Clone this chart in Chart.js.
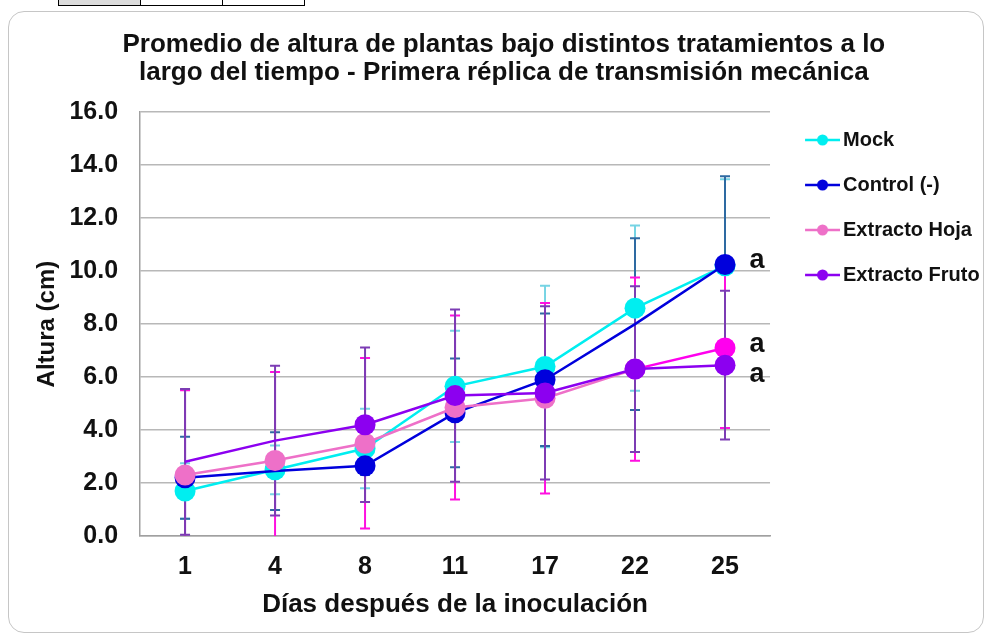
<!DOCTYPE html>
<html>
<head>
<meta charset="utf-8">
<script src="https://cdn.jsdelivr.net/npm/chart.js@4.4.0/dist/chart.umd.min.js"></script>
<style>
  html, body { margin: 0; padding: 0; background: #fff; }
  #wrap { position: relative; width: 987px; height: 637px; overflow: hidden; }
  .frame { position: absolute; left: 8px; top: 11px; width: 976px; height: 622px; border: 1.5px solid #c6c6c6; border-radius: 16px; box-sizing: border-box; }
  .tbl { position: absolute; left: 58px; top: -20px; height: 24px; display: flex; border: 1.5px solid #000; }
  .tbl div { width: 81px; border-right: 1.5px solid #000; }
  .tbl div:first-child { background: #dcdcdc; }
  .tbl div:last-child { border-right: none; }
  canvas { position: absolute; left: 0; top: 0; }
</style>
</head>
<body>
<div id="wrap">
  <div class="tbl"><div></div><div></div><div></div></div>
  <div class="frame"></div>
  <canvas id="chart" width="987" height="637"></canvas>
</div>
<script>
// days after inoculation
const days = ['1', '4', '8', '11', '17', '22', '25'];

// mean plant height (cm)
const mock = [1.7, 2.5, 3.3, 5.65, 6.4, 8.6, 10.2];
const control = [2.2, 2.45, 2.65, 4.65, 5.9, 8.0, 10.25];
const hoja = [2.3, 2.85, 3.5, 4.85, 5.2, 6.3, 7.1];
const fruto = [2.8, 3.6, 4.2, 5.3, 5.4, 6.3, 6.45];

// standard deviation (error bars)
const mockErr = [1.05, 0.92, 1.5, 2.1, 3.05, 3.12, 3.27];
const controlErr = [1.55, 1.47, 0.35, 2.05, 2.5, 3.24, 3.33];
const hojaErr = [3.2, 3.34, 3.22, 3.47, 3.6, 3.46, 3.02];
const frutoErr = [2.75, 2.83, 2.92, 3.25, 3.27, 3.13, 2.81];

// significance letters at last day
const letters = ['', 'a', 'a', 'a'];

const yTicks = [0, 2, 4, 6, 8, 10, 12, 14, 16];

const FONT = "'Liberation Sans', Arial, sans-serif";
const lineColors = ['#00eef0', '#0000dc', '#ee70c8', '#8c00f0'];
const errColors = ['#76d4e4', '#2e6aa2', '#ff10e0', '#7c3cb4'];
const hojaLast = '#ff00ee';

// legend sample: short line with a dot, drawn in the right part of the image
function legendIcon(color) {
  const c = document.createElement('canvas');
  c.width = 52; c.height = 16;
  const g = c.getContext('2d');
  g.strokeStyle = color; g.lineWidth = 2.5;
  g.beginPath(); g.moveTo(17, 8); g.lineTo(52, 8); g.stroke();
  g.fillStyle = color;
  g.beginPath(); g.arc(34.5, 8, 5.5, 0, Math.PI * 2); g.fill();
  return c;
}
const icons = lineColors.map(legendIcon);

const errorBars = {
  id: 'errorBars',
  beforeDatasetsDraw(chart) {
    const { ctx, chartArea, scales: { x, y } } = chart;
    const vals = [mock, control, hoja, fruto];
    const errs = [mockErr, controlErr, hojaErr, frutoErr];
    ctx.save();
    ctx.beginPath();
    ctx.rect(chartArea.left, chartArea.top - 2, chartArea.right - chartArea.left, chartArea.bottom - chartArea.top + 2);
    ctx.clip();
    ctx.lineWidth = 2;
    vals.forEach((series, s) => {
      ctx.strokeStyle = errColors[s];
      series.forEach((v, i) => {
        const px = x.getPixelForValue(i);
        const top = y.getPixelForValue(v + errs[s][i]);
        const bot = y.getPixelForValue(v - errs[s][i]);
        ctx.beginPath();
        ctx.moveTo(px, top); ctx.lineTo(px, bot);
        ctx.moveTo(px - 5, top); ctx.lineTo(px + 5, top);
        ctx.moveTo(px - 5, bot); ctx.lineTo(px + 5, bot);
        ctx.stroke();
      });
    });
    ctx.restore();
  }
};

const letterLabels = {
  id: 'letterLabels',
  afterDatasetsDraw(chart) {
    const ctx = chart.ctx;
    const dy = [0, -4, -3, 9];
    ctx.save();
    ctx.font = 'bold 27px ' + FONT;
    ctx.fillStyle = '#111';
    ctx.textAlign = 'center';
    ctx.textBaseline = 'middle';
    letters.forEach((t, s) => {
      if (!t) return;
      const meta = chart.getDatasetMeta(s);
      const pt = meta.data[meta.data.length - 1];
      ctx.fillText(t, pt.x + 32, pt.y + dy[s]);
    });
    ctx.restore();
  }
};

new Chart(document.getElementById('chart'), {
  type: 'line',
  data: {
    labels: days,
    datasets: [
      {
        label: 'Mock', data: mock, order: 3,
        borderColor: lineColors[0], backgroundColor: lineColors[0],
        pointRadius: 10.5
      },
      {
        label: 'Control (-)', data: control, order: 2,
        borderColor: lineColors[1], backgroundColor: lineColors[1],
        pointRadius: [10.5, 0, 10.5, 10.5, 10.5, 0, 10.5]
      },
      {
        label: 'Extracto Hoja', data: hoja, order: 1,
        borderColor: lineColors[2], backgroundColor: lineColors[2],
        pointBackgroundColor: hoja.map((v, i) => i === hoja.length - 1 ? hojaLast : lineColors[2]),
        pointBorderColor: hoja.map((v, i) => i === hoja.length - 1 ? hojaLast : lineColors[2]),
        segment: { borderColor: c => c.p1DataIndex === hoja.length - 1 ? hojaLast : lineColors[2] },
        pointRadius: 10.5
      },
      {
        label: 'Extracto Fruto', data: fruto, order: 0,
        borderColor: lineColors[3], backgroundColor: lineColors[3],
        pointRadius: [0, 0, 10.5, 10.5, 10.5, 10.5, 10.5]
      }
    ]
  },
  options: {
    responsive: false,
    animation: false,
    events: [],
    elements: {
      line: { borderWidth: 2.5, tension: 0 },
      point: { borderWidth: 0, hoverRadius: 10.5 }
    },
    layout: { padding: { left: 18, right: -2.7, top: 0, bottom: 12.4 } },
    plugins: {
      title: {
        display: true,
        text: ['Promedio de altura de plantas bajo distintos tratamientos a lo',
               'largo del tiempo - Primera réplica de transmisión mecánica'],
        color: '#111',
        font: { family: FONT, size: 26, weight: 'bold', lineHeight: 1.08 },
        padding: { top: 31, bottom: 25 }
      },
      legend: {
        position: 'right',
        align: 'start',
        title: { display: true, text: ' ', font: { size: 10, lineHeight: 1.2 }, padding: { top: 93, bottom: 0 } },
        labels: {
          usePointStyle: true,
          pointStyleWidth: 38,
          boxHeight: 16,
          padding: 25,
          color: '#111',
          font: { family: FONT, size: 20, weight: 'bold' },
          sort: (a, b) => a.datasetIndex - b.datasetIndex,
          generateLabels: chart => chart.data.datasets.map((ds, i) => ({
            text: ds.label, datasetIndex: i, pointStyle: icons[i],
            fillStyle: lineColors[i], strokeStyle: lineColors[i], lineWidth: 0,
            fontColor: '#111', hidden: false
          }))
        }
      },
      tooltip: { enabled: false }
    },
    scales: {
      x: {
        offset: true,
        grid: { display: false, drawTicks: false },
        border: { display: true, color: '#a0a0a0', width: 1.5 },
        ticks: { color: '#111', padding: 16, font: { family: FONT, size: 25, weight: 'bold' } },
        title: {
          display: true, text: 'Días después de la inoculación', color: '#111',
          font: { family: FONT, size: 26, weight: 'bold' },
          padding: { top: -8.6, bottom: 4 }
        }
      },
      y: {
        min: yTicks[0], max: yTicks[yTicks.length - 1],
        afterBuildTicks: axis => { axis.ticks = yTicks.map(v => ({ value: v })); },
        grid: { color: '#b8b8b8', lineWidth: 1.5, drawTicks: false },
        border: { display: true, color: '#a0a0a0', width: 1.5 },
        ticks: {
          color: '#111', padding: 22,
          font: { family: FONT, size: 25, weight: 'bold' },
          callback: v => Number(v).toFixed(1)
        },
        title: {
          display: true, text: 'Altura (cm)', color: '#111',
          font: { family: FONT, size: 24, weight: 'bold' },
          padding: { top: 14.6, bottom: -14 }
        }
      }
    }
  },
  plugins: [errorBars, letterLabels]
});
</script>
</body>
</html>
